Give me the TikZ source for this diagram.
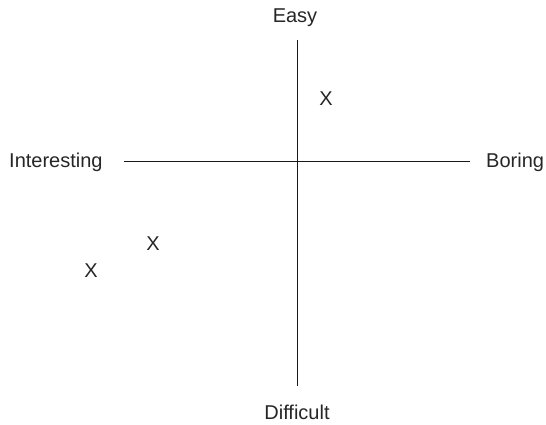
\documentclass[tikz,border=0pt]{standalone}
\usepackage{fontspec}
\setmainfont{Liberation Sans}
\begin{document}
\begin{tikzpicture}[x=1pt,y=-1pt,
  lbl/.style={font=\fontsize{20}{22}\selectfont, text=black!85, inner sep=0pt, anchor=base},
  axis/.style={draw=black!90, line width=0.9pt}]
\useasboundingbox (0,0) rectangle (546,424);
% labels
\node[lbl] (easy) at (295,22) {Easy};
\node[lbl] (difficult) at (297,419) {Difficult};
\node[lbl, anchor=base west] (interesting) at (9,167) {Interesting};
\node[lbl, anchor=base west] (boring) at (486,167) {Boring};
% axis ends
\coordinate (top) at (297,40);
\coordinate (bottom) at (297,386);
\coordinate (left) at (124,161);
\coordinate (right) at (470,161);
\draw[axis] (top) -- (bottom);
\draw[axis] (left) -- (right);
% marks
\node[lbl] (x1) at (326,105) {X};
\node[lbl] (x2) at (153,250) {X};
\node[lbl] (x3) at (91,277) {X};
\end{tikzpicture}
\end{document}
